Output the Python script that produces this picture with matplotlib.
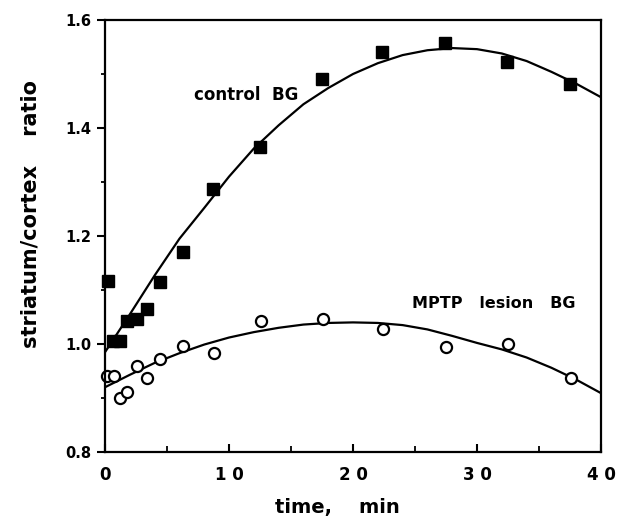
import numpy as np
import matplotlib.pyplot as plt
from matplotlib.ticker import MultipleLocator, FixedLocator

# measured points
ctrl_t = [0.2, 0.65, 1.2, 1.8, 2.6, 3.4, 4.4, 6.3, 8.7, 12.5, 17.5, 22.3, 27.4, 32.4, 37.5]
ctrl_v = [1.117, 1.006, 1.006, 1.043, 1.046, 1.065, 1.115, 1.170, 1.287, 1.365, 1.491,
          1.541, 1.557, 1.522, 1.481]

mptp_t = [0.15, 0.7, 1.2, 1.8, 2.6, 3.4, 4.4, 6.3, 8.8, 12.6, 17.6, 22.4, 27.5, 32.5, 37.6]
mptp_v = [0.941, 0.941, 0.900, 0.911, 0.959, 0.937, 0.972, 0.996, 0.983, 1.043, 1.046,
          1.028, 0.995, 1.000, 0.937]

# fitted curves
curve_t = [0, 2, 4, 6, 8, 10, 12, 14, 16, 18, 20, 22, 24, 26, 28, 30, 32, 34, 36, 38, 40]
ctrl_fit = [0.985, 1.055, 1.127, 1.195, 1.252, 1.310, 1.362, 1.405, 1.444, 1.474, 1.500,
            1.520, 1.535, 1.544, 1.548, 1.546, 1.538, 1.524, 1.504, 1.482, 1.457]
mptp_fit = [0.920, 0.943, 0.965, 0.983, 0.999, 1.012, 1.022, 1.030, 1.036, 1.039, 1.040,
            1.039, 1.035, 1.027, 1.015, 1.002, 0.990, 0.975, 0.956, 0.934, 0.909]

xticks = [0, 10, 20, 30, 40]
xtick_labels = ['0', '1 0', '2 0', '3 0', '4 0']
yticks = [0.8, 1.0, 1.2, 1.4, 1.6]

plt.rcParams['font.family'] = ['DejaVu Sans']
plt.rcParams['font.weight'] = 'bold'

fig = plt.figure(figsize=(6.18, 5.18), dpi=100)
ax = fig.add_axes([0.170, 0.1274, 0.8025, 0.834])

ax.plot(curve_t, ctrl_fit, color='black', lw=1.6, solid_capstyle='butt')
ax.plot(curve_t, mptp_fit, color='black', lw=1.6, solid_capstyle='butt')
ax.plot(ctrl_t, ctrl_v, 's', color='black', ms=9, clip_on=False)
ax.plot(mptp_t, mptp_v, 'o', mfc='white', mec='black', mew=1.6, ms=8, clip_on=False)

ax.set_xlim(0, 40)
ax.set_ylim(0.8, 1.6)
ax.xaxis.set_major_locator(FixedLocator(xticks))
ax.set_xticklabels(xtick_labels)
ax.xaxis.set_minor_locator(MultipleLocator(5))
ax.yaxis.set_major_locator(FixedLocator(yticks))
ax.yaxis.set_minor_locator(MultipleLocator(0.1))

for s in ax.spines.values():
    s.set_linewidth(1.6)

ax.tick_params(axis='x', which='major', direction='in', length=6, width=1.5,
               labelsize=12, pad=10)
ax.tick_params(axis='x', which='minor', direction='in', length=4, width=1.3)
ax.tick_params(axis='y', which='major', direction='out', length=6, width=1.5,
               labelsize=10.5, pad=4)
ax.tick_params(axis='y', which='minor', direction='out', length=3, width=1.3)

ax.set_xlabel('time,    min', fontsize=14, fontweight='bold')
ax.xaxis.set_label_coords(0.468, -0.106)
ax.set_ylabel('striatum/cortex    ratio', fontsize=15, fontweight='bold')
ax.yaxis.set_label_coords(-0.13, 0.55)

ax.text(11.37, 1.461, 'control  BG', fontsize=12, fontweight='bold', ha='center', va='center')
ax.text(31.37, 1.075, 'MPTP   lesion   BG', fontsize=11.5, fontweight='bold',
        ha='center', va='center')

fig.savefig('out.png', dpi=100)
